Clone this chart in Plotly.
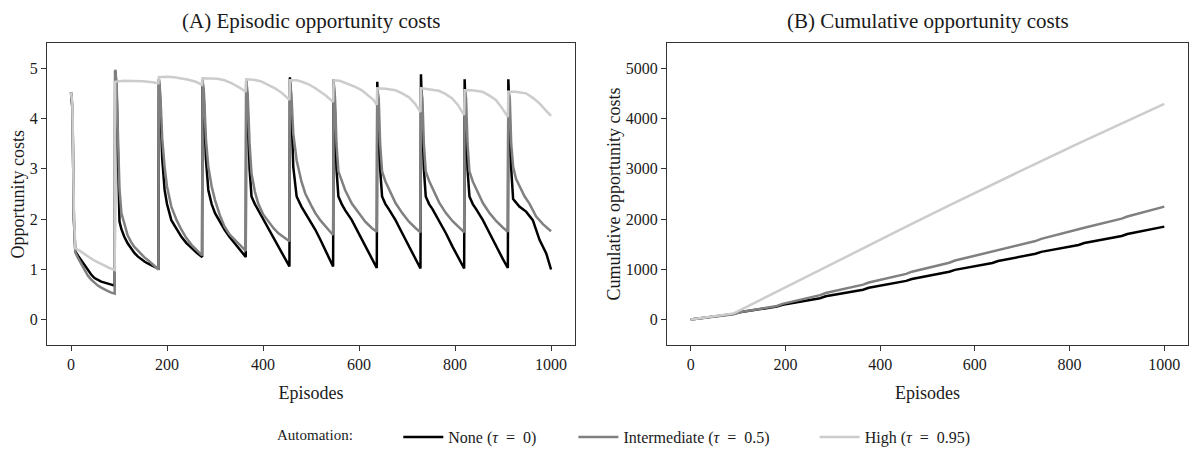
import plotly.graph_objects as go

# ---------------- Panel A: episodic opportunity costs ----------------
none_x = [0, 3, 6, 9, 15, 21, 28, 35, 42, 49, 56, 63, 70, 77, 84, 91,
          92, 95, 98, 101, 105, 111, 118, 125, 132, 139, 146, 153, 160, 167, 174, 182,
          183, 186, 190, 195, 200, 209, 220, 230, 240, 251, 262, 273,
          274, 277, 281, 286, 293, 300, 310, 320, 330, 341, 352, 364,
          365, 368, 372, 376, 383, 390, 400, 411, 422, 432, 443, 455,
          456, 459, 463, 470, 480, 488, 500, 509, 520, 530, 540, 546,
          547, 550, 553, 557, 564, 571, 585, 599, 613, 627, 637,
          638, 641, 644, 648, 655, 662, 676, 690, 704, 718, 728,
          729, 732, 735, 739, 746, 753, 767, 781, 795, 809, 819,
          820, 823, 826, 830, 837, 844, 858, 872, 886, 900, 910,
          911, 914, 917, 921, 934, 948, 962, 976, 990, 1000]
none_y = [4.52, 4.2, 2.0, 1.36, 1.27, 1.19, 1.08, 0.99, 0.90, 0.83, 0.79, 0.76, 0.74, 0.72, 0.70, 0.68,
          4.95, 4.6, 3.2, 1.95, 1.8, 1.65, 1.52, 1.42, 1.33, 1.26, 1.2, 1.16, 1.12, 1.08, 1.05, 1.02,
          4.78, 4.3, 3.2, 2.58, 2.3, 1.98, 1.8, 1.65, 1.53, 1.42, 1.33, 1.25,
          4.77, 4.3, 3.2, 2.58, 2.3, 2.12, 1.95, 1.79, 1.65, 1.52, 1.40, 1.25,
          4.76, 4.2, 3.0, 2.45, 2.3, 2.18, 2.0, 1.82, 1.63, 1.45, 1.27, 1.06,
          4.82, 4.2, 3.04, 2.45, 2.25, 2.12, 1.93, 1.79, 1.58, 1.39, 1.2, 1.06,
          4.78, 4.1, 3.0, 2.45, 2.3, 2.18, 1.98, 1.72, 1.45, 1.19, 1.03,
          4.73, 4.0, 3.0, 2.45, 2.3, 2.2, 1.98, 1.72, 1.45, 1.2, 1.02,
          4.88, 4.1, 3.0, 2.45, 2.3, 2.2, 1.97, 1.72, 1.45, 1.19, 1.02,
          4.78, 4.0, 3.0, 2.45, 2.3, 2.2, 1.98, 1.72, 1.45, 1.2, 1.03,
          4.78, 4.0, 3.0, 2.4, 2.25, 2.15, 1.98, 1.59, 1.32, 1.0]

inter_x = [0, 3, 6, 9, 15, 21, 28, 35, 42, 49, 56, 63, 70, 77, 84, 91,
           92, 95, 98, 101, 105, 111, 118, 125, 132, 139, 146, 153, 160, 167, 174, 182,
           183, 186, 190, 195, 200, 209, 220, 230, 240, 251, 262, 273,
           274, 277, 281, 286, 293, 300, 310, 320, 330, 341, 352, 364,
           365, 368, 372, 376, 383, 390, 400, 411, 422, 432, 443, 455,
           456, 459, 463, 470, 480, 488, 500, 509, 520, 530, 540, 546,
           547, 550, 553, 557, 564, 571, 585, 599, 613, 627, 637,
           638, 641, 644, 648, 655, 662, 676, 690, 704, 718, 728,
           729, 732, 735, 739, 746, 753, 767, 781, 795, 809, 819,
           820, 823, 826, 830, 837, 844, 858, 872, 886, 900, 910,
           911, 914, 917, 921, 927, 934, 945, 955, 969, 983, 1000]
inter_y = [4.52, 4.2, 2.0, 1.34, 1.22, 1.12, 0.99, 0.88, 0.80, 0.73, 0.68, 0.64, 0.60, 0.57, 0.54, 0.52,
           4.97, 4.7, 3.6, 2.6, 2.12, 1.9, 1.68, 1.55, 1.45, 1.38, 1.3, 1.24, 1.19, 1.12, 1.07, 1.0,
           4.78, 4.5, 3.6, 3.04, 2.65, 2.25, 1.98, 1.79, 1.63, 1.49, 1.38, 1.28,
           4.77, 4.5, 3.6, 3.04, 2.65, 2.38, 2.08, 1.85, 1.70, 1.59, 1.48, 1.37,
           4.76, 4.5, 3.5, 2.91, 2.55, 2.31, 2.1, 1.95, 1.82, 1.72, 1.64, 1.56,
           4.7, 4.5, 3.7, 3.17, 2.75, 2.51, 2.28, 2.12, 1.97, 1.85, 1.75, 1.69,
           4.7, 4.4, 3.5, 2.95, 2.75, 2.58, 2.31, 2.12, 1.95, 1.82, 1.75,
           4.6, 4.4, 3.5, 2.95, 2.75, 2.6, 2.32, 2.12, 1.95, 1.82, 1.74,
           4.6, 4.4, 3.5, 2.95, 2.76, 2.62, 2.33, 2.12, 1.96, 1.83, 1.74,
           4.58, 4.4, 3.5, 2.95, 2.75, 2.6, 2.32, 2.12, 1.96, 1.83, 1.75,
           4.55, 4.4, 3.5, 3.04, 2.8, 2.65, 2.45, 2.31, 2.05, 1.9, 1.76]

high_x = [0, 3, 6, 9, 20, 30, 40, 50, 60, 70, 80, 91,
          92, 110, 130, 150, 170, 182,
          183, 200, 215, 230, 245, 260, 273,
          274, 290, 305, 320, 335, 350, 364,
          365, 380, 395, 410, 425, 440, 455,
          456, 470, 481, 495, 509, 520, 530, 546,
          547, 560, 578, 592, 606, 620, 630, 637,
          638, 655, 676, 690, 704, 716, 728,
          729, 745, 766, 780, 794, 806, 819,
          820, 835, 857, 871, 885, 897, 910,
          911, 925, 948, 962, 976, 988, 1000]
high_y = [4.52, 4.3, 2.2, 1.42, 1.36, 1.29, 1.23, 1.17, 1.12, 1.07, 1.03, 0.99,
          4.73, 4.75, 4.75, 4.74, 4.72, 4.70,
          4.82, 4.83, 4.82, 4.80, 4.77, 4.73, 4.67,
          4.80, 4.80, 4.79, 4.76, 4.70, 4.62, 4.53,
          4.78, 4.77, 4.74, 4.67, 4.60, 4.50, 4.37,
          4.76, 4.76, 4.73, 4.68, 4.60, 4.53, 4.46, 4.33,
          4.76, 4.75, 4.69, 4.63, 4.56, 4.46, 4.37, 4.27,
          4.60, 4.59, 4.56, 4.50, 4.42, 4.30, 4.13,
          4.60, 4.58, 4.55, 4.49, 4.40, 4.27, 4.07,
          4.56, 4.56, 4.53, 4.46, 4.37, 4.22, 4.03,
          4.53, 4.53, 4.50, 4.41, 4.30, 4.17, 4.05]

# ---------------- Panel B: cumulative opportunity costs ----------------
cum_x = [0, 91, 103, 182, 194, 273, 285, 364, 376, 455, 467, 546, 558,
         637, 649, 728, 740, 819, 831, 910, 922, 1000]
cum_none = [5, 118, 150, 262, 300, 430, 468, 598, 636, 774, 812, 955, 993,
            1130, 1168, 1312, 1350, 1488, 1526, 1667, 1705, 1852]
cum_inter = [5, 112, 150, 275, 317, 490, 532, 700, 742, 913, 957, 1135, 1178,
             1356, 1398, 1565, 1608, 1786, 1828, 2010, 2052, 2249]
cum_high_x = [0, 91, 182, 273, 364, 455, 546, 637, 728, 819, 910, 1000]
cum_high = [5, 128, 559, 995, 1426, 1851, 2273, 2692, 3100, 3504, 3907, 4290]

NB = "\u00a0"
EN = "\u2002"
series_names = [f"None (<i>τ</i>{EN}={EN}0)" + NB * 8,
                f"Intermediate (<i>τ</i>{EN}={EN}0.5)" + NB * 10,
                f"High (<i>τ</i>{EN}={EN}0.95)"]
colors = ["#000000", "#808080", "#cccccc"]

x_ticks = [0, 200, 400, 600, 800, 1000]
yA_ticks = [0, 1, 2, 3, 4, 5]
yB_ticks = [0, 1000, 2000, 3000, 4000, 5000]

FONT = "Liberation Serif, DejaVu Serif, serif"
TXT = "#1a1a1a"

fig = go.Figure()
episodic = [(none_x, none_y), (inter_x, inter_y), (high_x, high_y)]
cumul = [(cum_x, cum_none), (cum_x, cum_inter), (cum_high_x, cum_high)]
for i, name in enumerate(series_names):
    ex, ey = episodic[i]
    fig.add_trace(go.Scatter(x=ex, y=ey, mode="lines", name=name, legendgroup=str(i),
                             line=dict(color=colors[i], width=2.5), xaxis="x", yaxis="y",
                             showlegend=True))
for i, name in enumerate(series_names):
    cx, cy = cumul[i]
    fig.add_trace(go.Scatter(x=cx, y=cy, mode="lines", name=name, legendgroup=str(i),
                             line=dict(color=colors[i], width=2.5), xaxis="x2", yaxis="y2",
                             showlegend=False))

axis_common = dict(showline=True, mirror=True, linecolor="#333333", linewidth=1,
                   ticks="outside", ticklen=5, tickwidth=1, tickcolor="#333333",
                   showgrid=False, zeroline=False,
                   tickfont=dict(family=FONT, size=16, color=TXT))

fig.update_layout(
    width=1189, height=449,
    margin=dict(l=47, r=1, t=43, b=104, autoexpand=False),
    paper_bgcolor="white", plot_bgcolor="white",
    font=dict(family=FONT, color=TXT),
    separators=".",
    xaxis=dict(domain=[0, 0.4628], range=[-50, 1050], tickvals=x_ticks, automargin=False,
               title=dict(text="Episodes", font=dict(size=18), standoff=14), **axis_common),
    yaxis=dict(domain=[0, 1], range=[-0.5, 5.5], tickvals=yA_ticks, anchor="x",
               automargin=False, **axis_common),
    xaxis2=dict(domain=[0.5434, 1.0], range=[-50, 1050], tickvals=x_ticks, anchor="y2",
                automargin=False,
                title=dict(text="Episodes", font=dict(size=18), standoff=14), **axis_common),
    yaxis2=dict(domain=[0, 1], range=[-500, 5500], tickvals=yB_ticks, anchor="x2",
                automargin=False, tickformat="d", **axis_common),
    legend=dict(orientation="h", x=0.507, xanchor="center", y=-0.305, yanchor="middle",
                title=dict(text="Automation:" + NB * 10, side="left", font=dict(size=15)),
                font=dict(family=FONT, size=16, color=TXT), bgcolor="rgba(0,0,0,0)",
                itemwidth=40),
    annotations=[
        dict(text="(A) Episodic opportunity costs", x=0.2314, y=1, xref="paper", yref="paper",
             xanchor="center", yanchor="bottom", yshift=8, showarrow=False,
             font=dict(family=FONT, size=21, color=TXT)),
        dict(text="(B) Cumulative opportunity costs", x=0.7717, y=1, xref="paper", yref="paper",
             xanchor="center", yanchor="bottom", yshift=8, showarrow=False,
             font=dict(family=FONT, size=21, color=TXT)),
        dict(text="Opportunity costs", x=-0.025, y=0.5, xref="paper", yref="paper",
             xanchor="center", yanchor="middle", textangle=-90, showarrow=False,
             font=dict(family=FONT, size=18, color=TXT)),
        dict(text="Cumulative opportunity costs", x=0.4965, y=0.5, xref="paper", yref="paper",
             xanchor="center", yanchor="middle", textangle=-90, showarrow=False,
             font=dict(family=FONT, size=18, color=TXT)),
    ],
)

fig.write_html("out.html")
